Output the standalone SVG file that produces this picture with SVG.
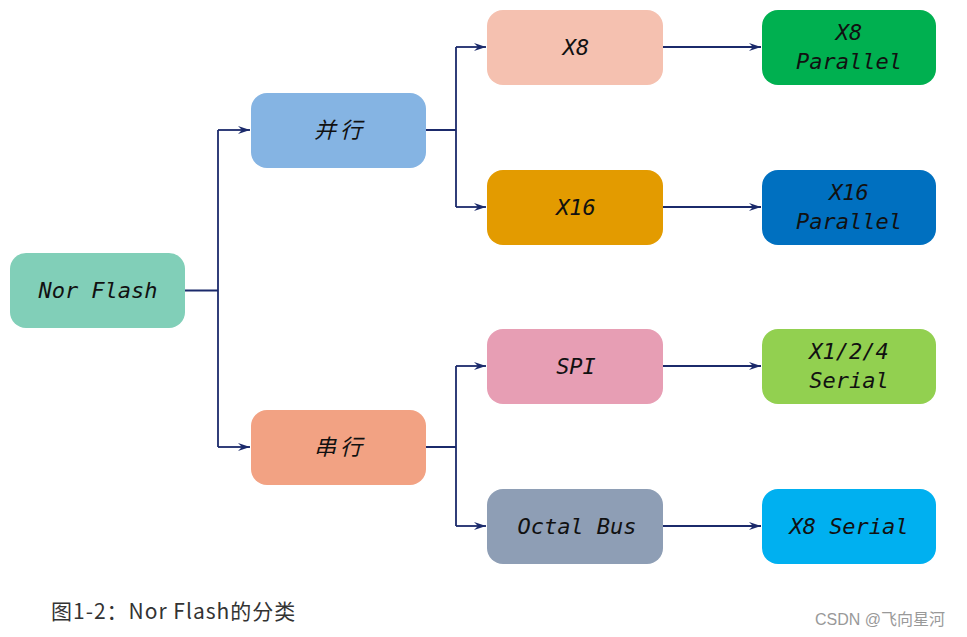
<svg xmlns="http://www.w3.org/2000/svg" width="967" height="637" viewBox="0 0 967 637">
<style>
.n{font-family:"DejaVu Sans Mono","Liberation Mono",monospace;font-style:oblique;font-size:22px;fill:#111;text-anchor:middle}
.c{font-family:"Noto Sans CJK SC","Noto Sans CJK JP",sans-serif;font-style:italic;font-size:22px;fill:#111;text-anchor:middle;letter-spacing:4px}
.e{fill:none;stroke:#1B2A6B;stroke-width:1.8}
</style>
<defs>
<marker id="a" markerWidth="14" markerHeight="10" refX="12" refY="5" orient="auto" markerUnits="userSpaceOnUse">
<path d="M0,1 L12,5 L0,9 L4,5 Z" fill="#1B2A6B"/>
</marker>
</defs>
<rect width="967" height="637" fill="#fff"/>
<g id="connectors">
<path class="e" d="M185,290.5 H218"/>
<path class="e" d="M218,130 V447"/>
<path class="e" d="M218,130 H250" marker-end="url(#a)"/>
<path class="e" d="M218,447 H250" marker-end="url(#a)"/>
<path class="e" d="M426,130 H456 M456,47 V207"/>
<path class="e" d="M456,47 H486" marker-end="url(#a)"/>
<path class="e" d="M456,207 H486" marker-end="url(#a)"/>
<path class="e" d="M426,447 H456 M456,366 V526"/>
<path class="e" d="M456,366 H486" marker-end="url(#a)"/>
<path class="e" d="M456,526 H486" marker-end="url(#a)"/>
<path class="e" d="M663,47 H761" marker-end="url(#a)"/>
<path class="e" d="M663,207 H761" marker-end="url(#a)"/>
<path class="e" d="M663,366 H761" marker-end="url(#a)"/>
<path class="e" d="M663,526 H761" marker-end="url(#a)"/>
</g>
<g id="norflash"><rect x="10" y="253" width="175" height="75" rx="16" fill="#81CFB8"/><text class="n" x="98" y="298">Nor Flash</text></g>
<g id="parallel"><rect x="251" y="93" width="175" height="75" rx="16" fill="#85B4E3"/><text class="c" x="340" y="138">并行</text></g>
<g id="serial"><rect x="251" y="410" width="175" height="75" rx="16" fill="#F2A283"/><text class="c" x="340" y="455">串行</text></g>
<g id="x8"><rect x="487" y="10" width="176" height="75" rx="16" fill="#F5C1B0"/><text class="n" x="576" y="55">X8</text></g>
<g id="x16"><rect x="487" y="170" width="176" height="75" rx="16" fill="#E39B00"/><text class="n" x="576" y="215">X16</text></g>
<g id="spi"><rect x="487" y="329" width="176" height="75" rx="16" fill="#E79EB4"/><text class="n" x="576" y="374">SPI</text></g>
<g id="octal"><rect x="487" y="489" width="176" height="75" rx="16" fill="#8E9EB5"/><text class="n" x="577" y="534">Octal Bus</text></g>
<g id="x8parallel"><rect x="762" y="10" width="174" height="75" rx="16" fill="#00B050"/><text class="n" x="849" y="40">X8</text><text class="n" x="849" y="69">Parallel</text></g>
<g id="x16parallel"><rect x="762" y="170" width="174" height="75" rx="16" fill="#0070C0"/><text class="n" x="849" y="200">X16</text><text class="n" x="849" y="229">Parallel</text></g>
<g id="x124serial"><rect x="762" y="329" width="174" height="75" rx="16" fill="#92D050"/><text class="n" x="849" y="359">X1/2/4</text><text class="n" x="849" y="388">Serial</text></g>
<g id="x8serial"><rect x="762" y="489" width="174" height="75" rx="16" fill="#00B0F0"/><text class="n" x="849" y="534">X8 Serial</text></g>
<text x="51" y="619" font-family="Noto Sans CJK SC, sans-serif" font-size="21" letter-spacing="1" fill="#333">图1-2：Nor Flash的分类</text>
<text x="815" y="625" font-family="Liberation Sans, Noto Sans CJK SC, sans-serif" font-size="16" fill="#999">CSDN @飞向星河</text>
</svg>
